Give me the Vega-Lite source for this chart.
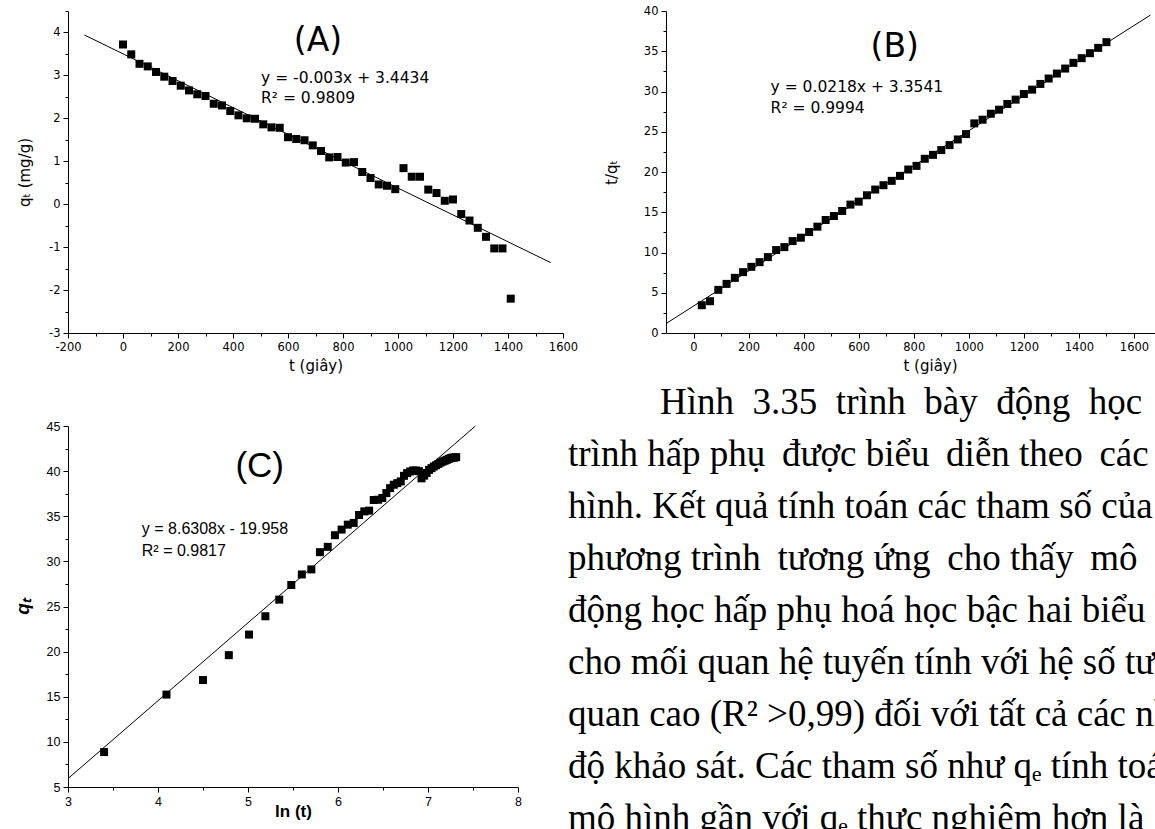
{
  "$schema": "https://vega.github.io/schema/vega-lite/v6.json",
  "background": "white",
  "padding": {"left": 13, "top": 5, "right": 0, "bottom": 0},
  "columns": 2,
  "spacing": {"row": 93, "column": 103},
  "bounds": "flush",
  "align": "each",
  "config": {
    "view": {"stroke": null},
    "axis": {
      "grid": false,
      "domainColor": "black",
      "domainWidth": 1,
      "tickColor": "black",
      "tickWidth": 1,
      "labelColor": "black",
      "labelFont": "DejaVu Sans",
      "labelFontSize": 11.5,
      "labelPadding": 3,
      "labelOverlap": false,
      "labelFlush": false,
      "labelBound": false,
      "titleColor": "black",
      "titleFont": "DejaVu Sans",
      "titleFontSize": 15,
      "titleFontWeight": "normal"
    }
  },
  "datasets": {
    "a": [
      {"t": 0, "q": 3.72}, {"t": 30, "q": 3.49}, {"t": 60, "q": 3.27}, {"t": 90, "q": 3.21}, {"t": 120, "q": 3.08},
      {"t": 150, "q": 2.97}, {"t": 180, "q": 2.87}, {"t": 210, "q": 2.76}, {"t": 240, "q": 2.65}, {"t": 270, "q": 2.56},
      {"t": 300, "q": 2.52}, {"t": 330, "q": 2.34}, {"t": 360, "q": 2.30}, {"t": 390, "q": 2.17}, {"t": 420, "q": 2.07},
      {"t": 450, "q": 2.00}, {"t": 480, "q": 1.99}, {"t": 510, "q": 1.86}, {"t": 540, "q": 1.79}, {"t": 570, "q": 1.78},
      {"t": 600, "q": 1.56}, {"t": 630, "q": 1.52}, {"t": 660, "q": 1.49}, {"t": 690, "q": 1.37}, {"t": 720, "q": 1.24},
      {"t": 750, "q": 1.09}, {"t": 780, "q": 1.10}, {"t": 810, "q": 0.97}, {"t": 840, "q": 0.98}, {"t": 870, "q": 0.75},
      {"t": 900, "q": 0.61}, {"t": 930, "q": 0.46}, {"t": 960, "q": 0.43}, {"t": 990, "q": 0.35}, {"t": 1020, "q": 0.84},
      {"t": 1050, "q": 0.64}, {"t": 1080, "q": 0.64}, {"t": 1110, "q": 0.34}, {"t": 1140, "q": 0.26}, {"t": 1170, "q": 0.08},
      {"t": 1200, "q": 0.11}, {"t": 1230, "q": -0.23}, {"t": 1260, "q": -0.38}, {"t": 1290, "q": -0.55}, {"t": 1320, "q": -0.76},
      {"t": 1350, "q": -1.03}, {"t": 1380, "q": -1.03}, {"t": 1410, "q": -2.20}
    ],
    "aline": [{"t": -140, "q": 3.94}, {"t": 1555, "q": -1.36}],
    "aann": [
      {"t": 709, "q": 3.81, "label": "(A)"}
    ],
    "aeq": [
      {"t": 502, "q": 2.93, "label": "y = -0.003x + 3.4434"},
      {"t": 502, "q": 2.47, "label": "R² = 0.9809"}
    ],
    "b": [
      {"t": 30, "v": 3.45}, {"t": 60, "v": 3.95}, {"t": 90, "v": 5.36}, {"t": 120, "v": 6.10}, {"t": 150, "v": 6.85},
      {"t": 180, "v": 7.56}, {"t": 210, "v": 8.22}, {"t": 240, "v": 8.80}, {"t": 270, "v": 9.43}, {"t": 300, "v": 10.30},
      {"t": 330, "v": 10.67}, {"t": 360, "v": 11.42}, {"t": 390, "v": 11.84}, {"t": 420, "v": 12.54}, {"t": 450, "v": 13.21},
      {"t": 480, "v": 14.04}, {"t": 510, "v": 14.53}, {"t": 540, "v": 15.16}, {"t": 570, "v": 15.95}, {"t": 600, "v": 16.32},
      {"t": 630, "v": 17.11}, {"t": 660, "v": 17.82}, {"t": 690, "v": 18.36}, {"t": 720, "v": 18.90}, {"t": 750, "v": 19.52},
      {"t": 780, "v": 20.31}, {"t": 810, "v": 20.76}, {"t": 840, "v": 21.64}, {"t": 870, "v": 22.13}, {"t": 900, "v": 22.72},
      {"t": 930, "v": 23.34}, {"t": 960, "v": 24.04}, {"t": 990, "v": 24.71}, {"t": 1020, "v": 26.04}, {"t": 1050, "v": 26.50},
      {"t": 1080, "v": 27.24}, {"t": 1110, "v": 27.74}, {"t": 1140, "v": 28.45}, {"t": 1170, "v": 28.99}, {"t": 1200, "v": 29.69},
      {"t": 1230, "v": 30.23}, {"t": 1260, "v": 30.94}, {"t": 1290, "v": 31.61}, {"t": 1320, "v": 32.23}, {"t": 1350, "v": 32.85},
      {"t": 1380, "v": 33.56}, {"t": 1410, "v": 34.14}, {"t": 1440, "v": 34.76}, {"t": 1470, "v": 35.42}, {"t": 1500, "v": 36.13}
    ],
    "bline": [{"t": -100, "v": 1.17}, {"t": 1660, "v": 39.5}],
    "bann": [
      {"t": 731, "v": 35.5, "label": "(B)"}
    ],
    "beq": [
      {"t": 280, "v": 30.5, "label": "y = 0.0218x + 3.3541"},
      {"t": 280, "v": 27.9, "label": "R² = 0.9994"}
    ],
    "c": [
      {"lnt": 3.401, "q": 8.87}, {"lnt": 4.094, "q": 15.24}, {"lnt": 4.500, "q": 16.85}, {"lnt": 4.787, "q": 19.61}, {"lnt": 5.011, "q": 21.89},
      {"lnt": 5.193, "q": 23.92}, {"lnt": 5.347, "q": 25.76}, {"lnt": 5.481, "q": 27.38}, {"lnt": 5.598, "q": 28.55}, {"lnt": 5.704, "q": 29.11},
      {"lnt": 5.799, "q": 31.02}, {"lnt": 5.886, "q": 31.61}, {"lnt": 5.966, "q": 32.90}, {"lnt": 6.040, "q": 33.52}, {"lnt": 6.109, "q": 34.07},
      {"lnt": 6.174, "q": 34.26}, {"lnt": 6.234, "q": 35.14}, {"lnt": 6.292, "q": 35.54}, {"lnt": 6.346, "q": 35.62}, {"lnt": 6.397, "q": 36.80},
      {"lnt": 6.446, "q": 36.83}, {"lnt": 6.492, "q": 37.02}, {"lnt": 6.537, "q": 37.57}, {"lnt": 6.579, "q": 38.12}, {"lnt": 6.620, "q": 38.49},
      {"lnt": 6.659, "q": 38.67}, {"lnt": 6.697, "q": 38.86}, {"lnt": 6.733, "q": 39.48}, {"lnt": 6.768, "q": 39.78}, {"lnt": 6.802, "q": 39.96},
      {"lnt": 6.835, "q": 40.07}, {"lnt": 6.867, "q": 40.07}, {"lnt": 6.898, "q": 40.00}, {"lnt": 6.928, "q": 39.20}, {"lnt": 6.957, "q": 39.50},
      {"lnt": 6.985, "q": 39.80}, {"lnt": 7.012, "q": 40.14}, {"lnt": 7.039, "q": 40.33}, {"lnt": 7.065, "q": 40.51}, {"lnt": 7.090, "q": 40.65},
      {"lnt": 7.115, "q": 40.80}, {"lnt": 7.139, "q": 40.95}, {"lnt": 7.162, "q": 41.06}, {"lnt": 7.185, "q": 41.15}, {"lnt": 7.208, "q": 41.25},
      {"lnt": 7.230, "q": 41.36}, {"lnt": 7.251, "q": 41.43}, {"lnt": 7.272, "q": 41.50}, {"lnt": 7.293, "q": 41.50}, {"lnt": 7.313, "q": 41.55}
    ],
    "cline": [{"lnt": 3.0, "q": 5.93}, {"lnt": 7.527, "q": 45.0}],
    "cann": [
      {"lnt": 5.13, "q": 40.6, "label": "(C)"}
    ],
    "ceq": [
      {"lnt": 3.82, "q": 33.56, "label": "y = 8.6308x - 19.958"},
      {"lnt": 3.82, "q": 31.1, "label": "R² = 0.9817"}
    ],
    "txt": [
      {"line": 1, "text": "Hình\u00a0\u00a03.35\u00a0\u00a0trình\u00a0\u00a0bày\u00a0\u00a0động\u00a0\u00a0học"},
      {"line": 2, "text": "trình hấp phụ \u2009được biểu \u2009diễn theo \u2009các"},
      {"line": 3, "text": "hình. Kết quả tính toán các tham số của"},
      {"line": 4, "text": "phương trình \u2009tương ứng \u2009cho thấy \u2009mô \u00a0hình"},
      {"line": 5, "text": "động học hấp phụ hoá học bậc hai biểu hiện"},
      {"line": 6, "text": "cho mối quan hệ tuyến tính với hệ số tương"},
      {"line": 7, "text": "quan cao (R² >0,99) đối với tất cả các nhiệt"},
      {"line": 8, "text": "độ khảo sát. Các tham số như qₑ tính toán"},
      {"line": 9, "text": "mô hình gần với qₑ thực nghiệm hơn là"}
    ]
  },
  "concat": [
    {
      "width": 495,
      "height": 322,
      "encoding": {
        "x": {
          "field": "t", "type": "quantitative",
          "scale": {"domain": [-200, 1600], "nice": false, "zero": false},
          "axis": {
            "values": [-200, -100, 0, 100, 200, 300, 400, 500, 600, 700, 800, 900, 1000, 1100, 1200, 1300, 1400, 1500, 1600],
            "labelExpr": "datum.value % 200 === 0 ? '' + datum.value : ''",
            "tickSize": {"condition": {"test": "datum.value % 200 === 0", "value": 5}, "value": 3},
            "title": "t (giây)",
            "titlePadding": 6
          }
        },
        "y": {
          "field": "q", "type": "quantitative",
          "scale": {"domain": [-3, 4.5], "nice": false, "zero": false},
          "axis": {
            "values": [-3, -2.5, -2, -1.5, -1, -0.5, 0, 0.5, 1, 1.5, 2, 2.5, 3, 3.5, 4, 4.5],
            "labelExpr": "datum.value % 1 === 0 ? '' + datum.value : ''",
            "tickSize": {"condition": {"test": "datum.value % 1 === 0", "value": 5}, "value": 3},
            "title": "qₜ (mg/g)",
            "titlePadding": 16
          }
        }
      },
      "layer": [
        {"data": {"name": "aline"}, "mark": {"type": "line", "color": "black", "strokeWidth": 1}},
        {"data": {"name": "a"}, "mark": {"type": "point", "shape": "square", "filled": true, "color": "black", "opacity": 1, "size": 64}},
        {"data": {"name": "aann"}, "mark": {"type": "text", "font": "DejaVu Sans", "fontSize": 33, "align": "center", "baseline": "middle", "color": "black"},
         "encoding": {"text": {"field": "label"}}},
        {"data": {"name": "aeq"}, "mark": {"type": "text", "font": "DejaVu Sans", "fontSize": 15.5, "align": "left", "baseline": "middle", "color": "black"},
         "encoding": {"text": {"field": "label"}}}
      ]
    },
    {
      "width": 490,
      "height": 322,
      "encoding": {
        "x": {
          "field": "t", "type": "quantitative",
          "scale": {"domain": [-100, 1680], "nice": false, "zero": false},
          "axis": {
            "values": [0, 100, 200, 300, 400, 500, 600, 700, 800, 900, 1000, 1100, 1200, 1300, 1400, 1500, 1600],
            "labelExpr": "datum.value % 200 === 0 ? '' + datum.value : ''",
            "tickSize": {"condition": {"test": "datum.value % 200 === 0", "value": 5}, "value": 3},
            "title": "t (giây)",
            "titleX": 264,
            "titlePadding": 6
          }
        },
        "y": {
          "field": "v", "type": "quantitative",
          "scale": {"domain": [0, 40], "nice": false, "zero": false},
          "axis": {
            "values": [0, 2.5, 5, 7.5, 10, 12.5, 15, 17.5, 20, 22.5, 25, 27.5, 30, 32.5, 35, 37.5, 40],
            "labelExpr": "datum.value % 5 === 0 ? '' + datum.value : ''",
            "tickSize": {"condition": {"test": "datum.value % 5 === 0", "value": 5}, "value": 3},
            "title": "t/qₜ",
            "titlePadding": 24
          }
        }
      },
      "layer": [
        {"data": {"name": "bline"}, "mark": {"type": "line", "color": "black", "strokeWidth": 1}},
        {"data": {"name": "b"}, "mark": {"type": "point", "shape": "square", "filled": true, "color": "black", "opacity": 1, "size": 64}},
        {"data": {"name": "bann"}, "mark": {"type": "text", "font": "DejaVu Sans", "fontSize": 33, "align": "center", "baseline": "middle", "color": "black"},
         "encoding": {"text": {"field": "label"}}},
        {"data": {"name": "beq"}, "mark": {"type": "text", "font": "DejaVu Sans", "fontSize": 15.5, "align": "left", "baseline": "middle", "color": "black"},
         "encoding": {"text": {"field": "label"}}}
      ]
    },
    {
      "width": 450,
      "height": 361,
      "encoding": {
        "x": {
          "field": "lnt", "type": "quantitative",
          "scale": {"domain": [3, 8], "nice": false, "zero": false},
          "axis": {
            "values": [3, 3.5, 4, 4.5, 5, 5.5, 6, 6.5, 7, 7.5, 8],
            "labelExpr": "datum.value % 1 === 0 ? '' + datum.value : ''",
            "tickSize": {"condition": {"test": "datum.value % 1 === 0", "value": 5}, "value": 3},
            "labelFont": "Liberation Sans",
            "labelFontSize": 12.5,
            "title": "ln (t)",
            "titleFont": "Liberation Sans",
            "titleFontSize": 17,
            "titleFontWeight": "bold",
            "titlePadding": -4
          }
        },
        "y": {
          "field": "q", "type": "quantitative",
          "scale": {"domain": [5, 45], "nice": false, "zero": false},
          "axis": {
            "values": [5, 7.5, 10, 12.5, 15, 17.5, 20, 22.5, 25, 27.5, 30, 32.5, 35, 37.5, 40, 42.5, 45],
            "labelExpr": "datum.value % 5 === 0 ? '' + datum.value : ''",
            "tickSize": {"condition": {"test": "datum.value % 5 === 0", "value": 5}, "value": 3},
            "labelFont": "Liberation Sans",
            "labelFontSize": 12.5,
            "title": "qₜ",
            "titleFont": "Liberation Sans",
            "titleFontSize": 19,
            "titleFontWeight": "bold",
            "titleFontStyle": "italic",
            "titlePadding": 14
          }
        }
      },
      "layer": [
        {"data": {"name": "cline"}, "mark": {"type": "line", "color": "black", "strokeWidth": 1}},
        {"data": {"name": "c"}, "mark": {"type": "point", "shape": "square", "filled": true, "color": "black", "opacity": 1, "size": 64}},
        {"data": {"name": "cann"}, "mark": {"type": "text", "font": "Liberation Sans", "fontSize": 35, "align": "center", "baseline": "middle", "color": "black"},
         "encoding": {"text": {"field": "label"}}},
        {"data": {"name": "ceq"}, "mark": {"type": "text", "font": "Liberation Sans", "fontSize": 16, "align": "left", "baseline": "middle", "color": "black"},
         "encoding": {"text": {"field": "label"}}}
      ]
    },
    {
      "width": 490,
      "height": 361,
      "data": {"name": "txt"},
      "encoding": {
        "y": {"field": "line", "type": "quantitative", "scale": {"domain": [1.442, 8.385], "reverse": true, "nice": false, "zero": false}, "axis": null},
        "text": {"field": "text"}
      },
      "layer": [
        {
          "transform": [{"filter": "datum.line === 1"}],
          "mark": {"type": "text", "align": "left", "baseline": "middle", "font": "Liberation Serif", "fontSize": 37, "color": "black"},
          "encoding": {
            "x": {"datum": 0.188, "type": "quantitative", "scale": {"domain": [0.2, 1.2], "nice": false, "zero": false}, "axis": null}
          }
        },
        {
          "transform": [{"filter": "datum.line > 1"}],
          "mark": {"type": "text", "align": "left", "baseline": "middle", "font": "Liberation Serif", "fontSize": 37, "color": "black"},
          "encoding": {
            "x": {"datum": 0, "type": "quantitative", "scale": {"domain": [0.2, 1.2], "nice": false, "zero": false}, "axis": null}
          }
        }
      ]
    }
  ]
}
